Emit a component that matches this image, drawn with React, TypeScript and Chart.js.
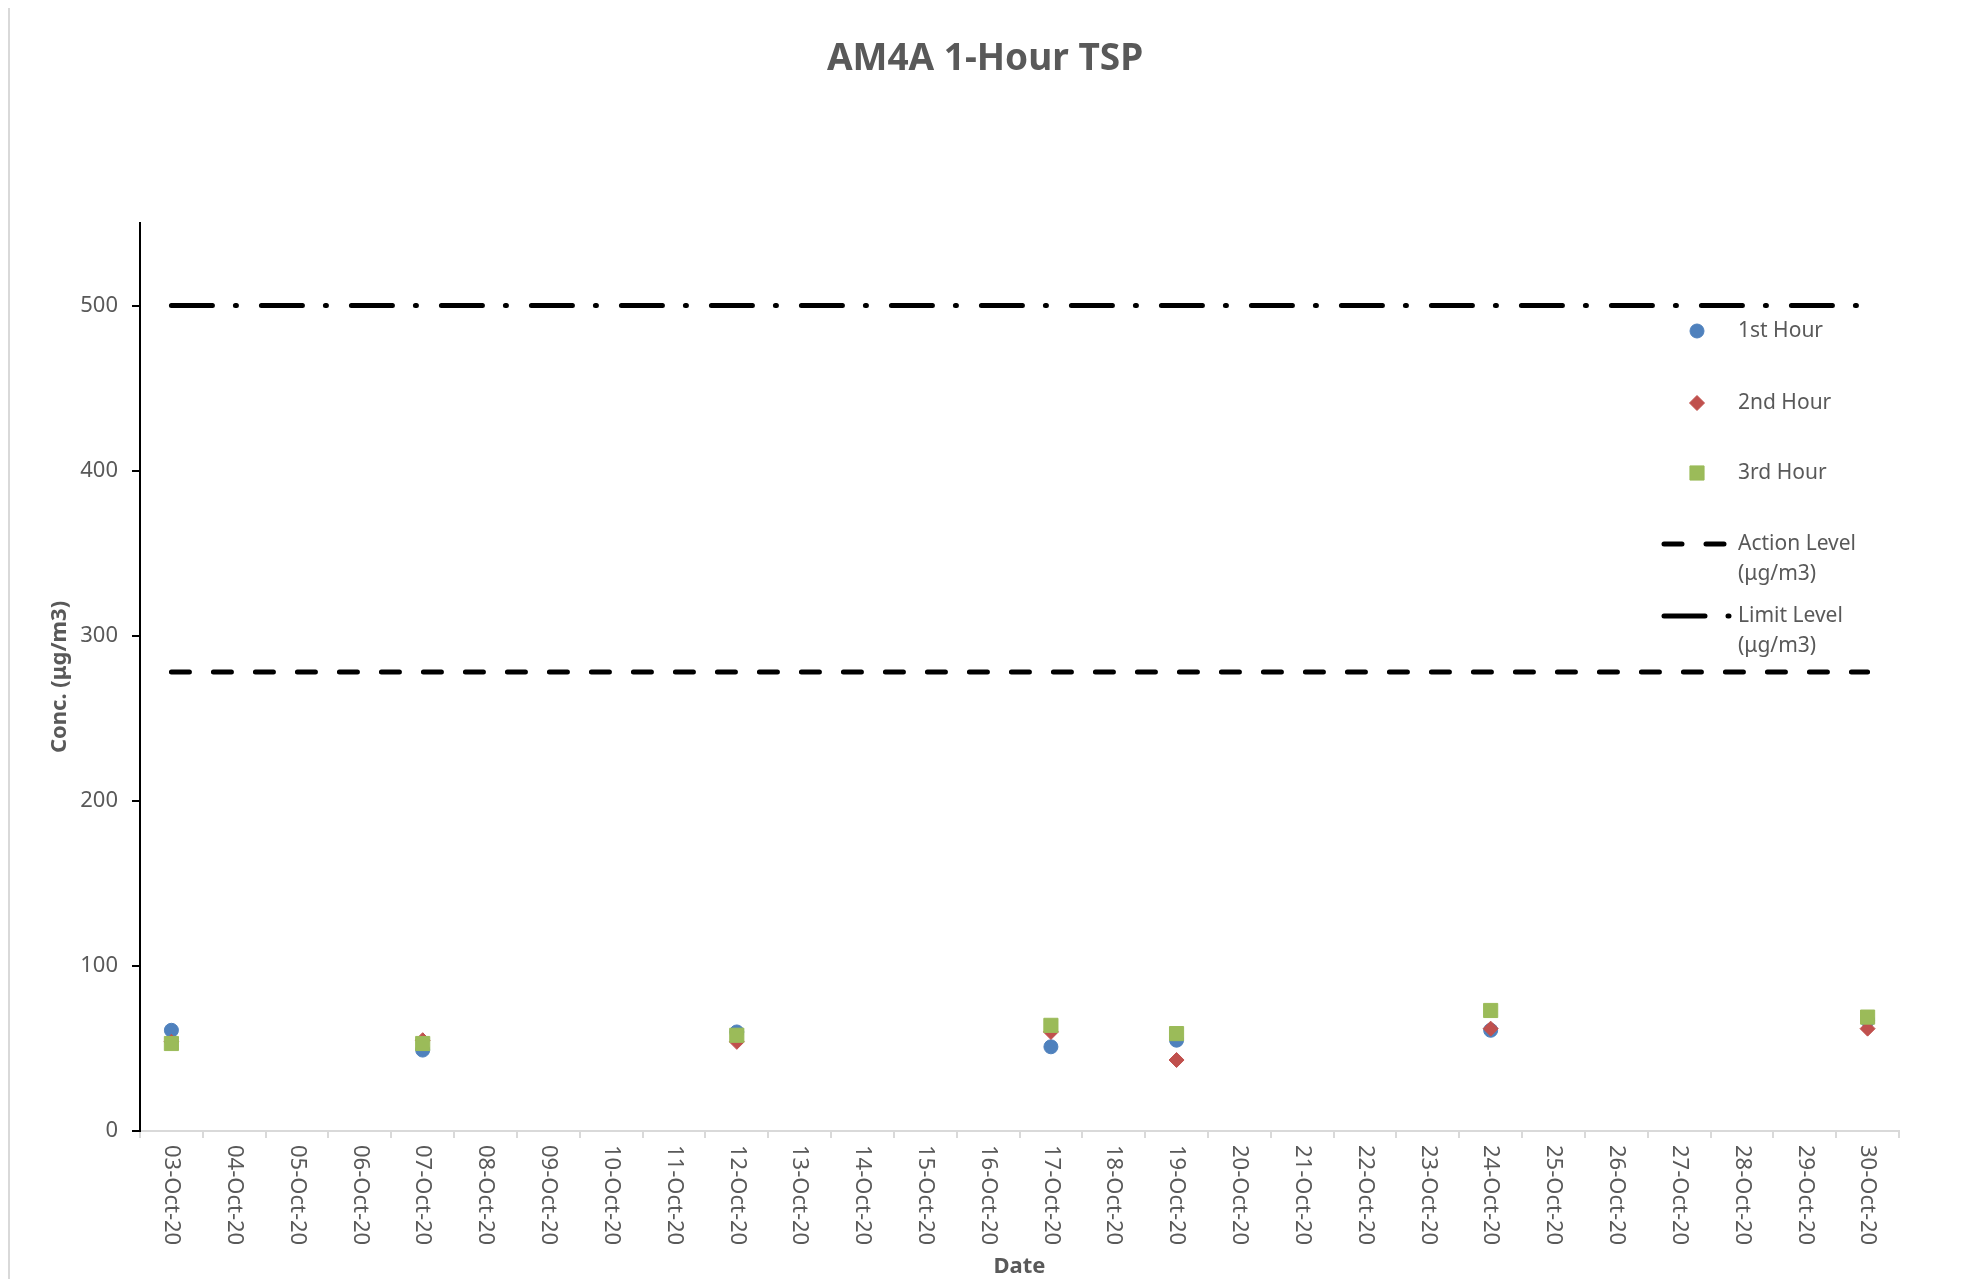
import React, { useEffect, useRef } from 'react';
import { Chart, registerables } from 'chart.js';

Chart.register(...registerables);

// ---- data ----
const dates = [
  '03-Oct-20', '04-Oct-20', '05-Oct-20', '06-Oct-20', '07-Oct-20', '08-Oct-20', '09-Oct-20',
  '10-Oct-20', '11-Oct-20', '12-Oct-20', '13-Oct-20', '14-Oct-20', '15-Oct-20', '16-Oct-20',
  '17-Oct-20', '18-Oct-20', '19-Oct-20', '20-Oct-20', '21-Oct-20', '22-Oct-20', '23-Oct-20',
  '24-Oct-20', '25-Oct-20', '26-Oct-20', '27-Oct-20', '28-Oct-20', '29-Oct-20', '30-Oct-20',
];
const sampleDates = ['03-Oct-20', '07-Oct-20', '12-Oct-20', '17-Oct-20', '19-Oct-20', '24-Oct-20', '30-Oct-20'];
const firstHour = [61, 49, 60, 51, 55, 61, 67];
const secondHour = [54, 55, 54, 60, 43, 62, 62];
const thirdHour = [53, 53, 58, 64, 59, 73, 69];
const actionLevel = 278;
const limitLevel = 500;
const yMin = 0;
const yMax = 550;
const yStep = 100;
const yLastLabel = 500;

const TEXT = '#595959';
const FONT = '"Noto Sans", "DejaVu Sans", sans-serif';

const pts = (vals: number[]) => sampleDates.map((d, i) => ({ x: d, y: vals[i] }));
const flat = (v: number) => [{ x: dates[0], y: v }, { x: dates[dates.length - 1], y: v }];

const legendPlugin = {
  id: 'customLegend',
  afterDraw(chart: any) {
    const { ctx, chartArea } = chart;
    const mx = chartArea.right - 202;
    const tx = chartArea.right - 161;
    const lx1 = chartArea.right - 235;
    const lx2 = chartArea.right - 168;
    const t = chartArea.top;
    const rows = [108, 180, 250, 321, 393];
    const lineGap = 30.5;
    ctx.save();
    ctx.font = `21px ${FONT}`;
    ctx.textBaseline = 'middle';
    ctx.textAlign = 'left';
    const ds = chart.data.datasets;
    ds.forEach((d: any, i: number) => {
      const y = t + rows[i];
      if (d.showLine === false) {
        ctx.fillStyle = d.backgroundColor;
        ctx.strokeStyle = d.borderColor;
        ctx.lineWidth = 1;
        ctx.beginPath();
        const r = d.pointRadius;
        if (d.pointStyle === 'circle') {
          ctx.arc(mx, y, r, 0, Math.PI * 2);
        } else if (d.pointStyle === 'rectRot') {
          ctx.moveTo(mx - r, y); ctx.lineTo(mx, y - r); ctx.lineTo(mx + r, y); ctx.lineTo(mx, y + r); ctx.closePath();
        } else {
          const s = Math.SQRT1_2 * r;
          ctx.rect(mx - s, y - s, 2 * s, 2 * s);
        }
        ctx.fill();
        ctx.stroke();
        ctx.fillStyle = TEXT;
        ctx.fillText(d.label, tx, y);
      } else {
        ctx.save();
        ctx.strokeStyle = d.borderColor;
        ctx.lineWidth = d.borderWidth;
        ctx.lineCap = 'round';
        ctx.setLineDash(d.borderDash);
        ctx.beginPath();
        ctx.moveTo(lx1, y);
        ctx.lineTo(lx2, y);
        ctx.stroke();
        ctx.restore();
        const idx = d.label.indexOf(' (');
        const l1 = d.label.slice(0, idx);
        const l2 = d.label.slice(idx + 1);
        ctx.fillStyle = TEXT;
        ctx.fillText(l1, tx, y);
        ctx.fillText(l2, tx, y + lineGap);
      }
    });
    ctx.restore();
  },
};

const xLabelPlugin = {
  id: 'xLabels',
  afterDraw(chart: any) {
    const sx = chart.scales.x;
    const { ctx } = chart;
    ctx.save();
    ctx.font = `22px ${FONT}`;
    ctx.fillStyle = TEXT;
    ctx.textAlign = 'left';
    ctx.textBaseline = 'middle';
    sx.ticks.forEach((tk: any, i: number) => {
      const x = sx.getPixelForTick(i);
      ctx.save();
      ctx.translate(x, chart.chartArea.bottom + 14);
      ctx.rotate(Math.PI / 2);
      ctx.fillText(String(sx.getLabelForValue(tk.value)), 0, 0);
      ctx.restore();
    });
    ctx.restore();
  },
};

export default function App() {
  const ref = useRef<HTMLCanvasElement>(null);
  useEffect(() => {
    const chart = new Chart(ref.current as HTMLCanvasElement, {
      type: 'line',
      data: {
        labels: dates,
        datasets: [
          {
            label: '1st Hour', data: pts(firstHour), showLine: false,
            pointStyle: 'circle', pointRadius: 7, pointHoverRadius: 7,
            backgroundColor: '#4F81BD', borderColor: '#4F81BD', pointBorderWidth: 1, order: 3,
          },
          {
            label: '2nd Hour', data: pts(secondHour), showLine: false,
            pointStyle: 'rectRot', pointRadius: 7.5, pointHoverRadius: 7.5,
            backgroundColor: '#C0504D', borderColor: '#C0504D', pointBorderWidth: 1, order: 2,
          },
          {
            label: '3rd Hour', data: pts(thirdHour), showLine: false,
            pointStyle: 'rect', pointRadius: 10, pointHoverRadius: 10,
            backgroundColor: '#9BBB59', borderColor: '#9BBB59', pointBorderWidth: 1, order: 1,
          },
          {
            label: 'Action Level (μg/m3)', data: flat(actionLevel),
            borderColor: '#000000', backgroundColor: '#000000', borderWidth: 5,
            borderDash: [18, 24], borderCapStyle: 'round', pointRadius: 0, order: 4,
          },
          {
            label: 'Limit Level (μg/m3)', data: flat(limitLevel),
            borderColor: '#000000', backgroundColor: '#000000', borderWidth: 5,
            borderDash: [41, 23, 1, 25], borderCapStyle: 'round', pointRadius: 0, order: 5,
          },
        ] as any,
      },
      options: {
        responsive: false,
        animation: false,
        devicePixelRatio: 1,
        events: [],
        layout: { padding: 0 },
        plugins: {
          legend: { display: false },
          tooltip: { enabled: false },
          title: {
            display: true,
            text: 'AM4A 1-Hour TSP',
            color: TEXT,
            font: { family: FONT, size: 37, weight: 'bold' },
            padding: { top: 28.8, bottom: 141.8 },
          },
        },
        scales: {
          x: {
            type: 'category',
            offset: true,
            grid: {
              offset: true, drawOnChartArea: false, drawTicks: true,
              tickLength: 7, color: '#d9d9d9', lineWidth: 2,
            },
            border: { display: true, color: '#d9d9d9', width: 2 },
            ticks: { display: false, autoSkip: false },
            title: {
              display: true, text: 'Date', color: TEXT,
              font: { family: FONT, size: 22, weight: 'bold' },
              padding: { top: 0, bottom: 20 },
            },
            afterFit: (s: any) => { s.height = 169; },
          },
          y: {
            type: 'linear',
            position: 'left',
            min: yMin,
            max: yMax,
            afterBuildTicks: (s: any) => { s.ticks = s.ticks.filter((t: any) => t.value <= yLastLabel); },
            grid: { drawOnChartArea: false, drawTicks: true, tickLength: 8, color: '#000000', lineWidth: 2 },
            border: { display: true, color: '#000000', width: 2 },
            ticks: {
              stepSize: yStep, color: TEXT, padding: 14,
              font: { family: FONT, size: 22 },
            },
            title: {
              display: true, text: 'Conc. (μg/m3)', color: TEXT,
              font: { family: FONT, size: 22, weight: 'bold' },
              padding: { top: 36.8, bottom: 0 },
            },
            afterFit: (s: any) => { s.width = 130; },
          },
          yRight: {
            type: 'linear',
            position: 'right',
            display: true,
            grid: { display: false, drawTicks: false },
            border: { display: false },
            ticks: { display: false },
            afterFit: (s: any) => { s.width = 61; },
          },
        },
      } as any,
      plugins: [legendPlugin, xLabelPlugin],
    });
    return () => chart.destroy();
  }, []);

  return (
    <div
      style={{
        width: 1954, height: 1300, border: '2px solid #d9d9d9', boxSizing: 'border-box',
        marginTop: -2, overflow: 'hidden', background: '#ffffff',
      }}
    >
      <canvas ref={ref} width={1950} height={1292} style={{ display: 'block', width: 1950, height: 1292 }} />
    </div>
  );
}
